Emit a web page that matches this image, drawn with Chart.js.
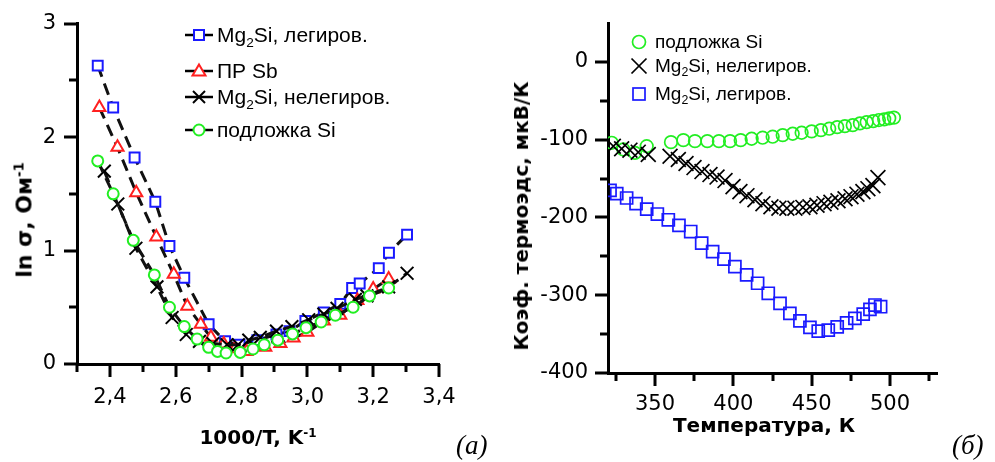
<!DOCTYPE html>
<html><head><meta charset="utf-8">
<script src="https://cdn.jsdelivr.net/npm/chart.js@4.4.1/dist/chart.umd.min.js"></script>
<style>
html,body{margin:0;padding:0;background:#fff;}
body{width:995px;height:462px;position:relative;overflow:hidden;font-family:"Liberation Sans",Arial,sans-serif;color:#000;}
canvas{position:absolute;top:0;}
#ca{left:0;}
#cb{left:480px;}
.t{position:absolute;white-space:nowrap;font-family:"DejaVu Sans",sans-serif;}
.b{font-weight:bold;}
.c{transform:translate(-50%,-50%);}
.r{transform:translate(-50%,-50%) rotate(-90deg);}
sup{font-size:0.6em;vertical-align:0.6em;line-height:0;}
sub{font-size:0.65em;vertical-align:-0.35em;line-height:0;}
.lg{position:absolute;white-space:nowrap;height:24px;line-height:24px;}
.lg svg{position:absolute;top:0;}
.lab{position:absolute;font-family:"Liberation Serif","Times New Roman",serif;font-style:italic;font-size:27px;}
</style>
</head><body>
<canvas id="ca" width="470" height="462"></canvas>
<canvas id="cb" width="515" height="462"></canvas>

<div class="t b r" style="left:24px;top:220px;font-size:22px;">ln σ, Ом<sup>-1</sup></div>
<div class="t b c" style="left:258px;top:437px;font-size:20px;">1000/T, K<sup>-1</sup></div>
<div class="t b r" style="left:521px;top:216px;font-size:20px;">Коэф. термоэдс, мкВ/К</div>
<div class="t b c" style="left:764px;top:425px;font-size:20px;">Температура, К</div>
<div class="lab" style="left:456px;top:430px;">(а)</div>
<div class="lab" style="left:952px;top:430px;">(б)</div>

<!-- legend (a) -->
<div class="lg" style="left:184px;top:23px;width:200px;font-size:21px;">
 <svg width="30" height="24" style="left:0"><line x1="1" y1="12" x2="29" y2="12" stroke="#000" stroke-width="2.5"/><rect x="10" y="7" width="10" height="10" fill="#fff" stroke="#1a1aff" stroke-width="2"/></svg>
 <span style="position:absolute;left:33px;">Mg<sub>2</sub>Si, легиров.</span></div>
<div class="lg" style="left:184px;top:59px;width:200px;font-size:21px;">
 <svg width="30" height="24" style="left:0"><line x1="1" y1="12" x2="29" y2="12" stroke="#000" stroke-width="2.5"/><polygon points="15,5.5 21.5,16.5 8.5,16.5" fill="#fff" stroke="#ff2020" stroke-width="2"/></svg>
 <span style="position:absolute;left:33px;">ПР Sb</span></div>
<div class="lg" style="left:184px;top:85px;width:240px;font-size:21px;">
 <svg width="30" height="24" style="left:0"><line x1="1" y1="12" x2="29" y2="12" stroke="#000" stroke-width="2.5"/><line x1="9" y1="6" x2="21" y2="18" stroke="#000" stroke-width="2"/><line x1="21" y1="6" x2="9" y2="18" stroke="#000" stroke-width="2"/></svg>
 <span style="position:absolute;left:33px;">Mg<sub>2</sub>Si, нелегиров.</span></div>
<div class="lg" style="left:184px;top:118px;width:200px;font-size:21px;">
 <svg width="30" height="24" style="left:0"><line x1="1" y1="12" x2="29" y2="12" stroke="#000" stroke-width="2.5"/><circle cx="15" cy="12" r="5.5" fill="#fff" stroke="#22ee22" stroke-width="2"/></svg>
 <span style="position:absolute;left:33px;">подложка Si</span></div>

<!-- legend (b) -->
<div class="lg" style="left:628px;top:30px;width:200px;font-size:19px;">
 <svg width="24" height="24" style="left:0"><circle cx="11" cy="12" r="6.5" fill="none" stroke="#22ee22" stroke-width="1.7"/></svg>
 <span style="position:absolute;left:27px;">подложка Si</span></div>
<div class="lg" style="left:628px;top:54px;width:240px;font-size:19px;">
 <svg width="24" height="24" style="left:0"><line x1="3.5" y1="4.5" x2="18.5" y2="19.5" stroke="#000" stroke-width="1.7"/><line x1="18.5" y1="4.5" x2="3.5" y2="19.5" stroke="#000" stroke-width="1.7"/></svg>
 <span style="position:absolute;left:27px;">Mg<sub>2</sub>Si, нелегиров.</span></div>
<div class="lg" style="left:628px;top:82px;width:240px;font-size:19px;">
 <svg width="24" height="24" style="left:0"><rect x="5" y="6" width="12" height="12" fill="none" stroke="#1a1aff" stroke-width="1.7"/></svg>
 <span style="position:absolute;left:27px;">Mg<sub>2</sub>Si, легиров.</span></div>

<script>
// ---------- (a) ln sigma vs 1000/T ----------
const aBlueX  = [2.363, 2.410, 2.475, 2.538, 2.581, 2.626, 2.700, 2.750, 2.794, 2.848, 2.906, 2.946, 2.994, 3.050, 3.100, 3.136, 3.159, 3.217, 3.248, 3.303];
const aBlueY  = [2.63, 2.26, 1.82, 1.43, 1.04, 0.76, 0.35, 0.20, 0.17, 0.21, 0.26, 0.29, 0.38, 0.455, 0.53, 0.67, 0.71, 0.845, 0.98, 1.14];
const aRedX   = [2.368, 2.423, 2.480, 2.541, 2.594, 2.635, 2.676, 2.707, 2.746, 2.780, 2.815, 2.872, 2.918, 2.958, 3.000, 3.050, 3.100, 3.152, 3.200, 3.247];
const aRedY   = [2.26, 1.91, 1.51, 1.12, 0.79, 0.51, 0.35, 0.235, 0.176, 0.135, 0.11, 0.147, 0.18, 0.23, 0.28, 0.38, 0.43, 0.56, 0.66, 0.75];
const aBlackX = [2.383, 2.424, 2.479, 2.543, 2.589, 2.632, 2.672, 2.713, 2.756, 2.790, 2.822, 2.857, 2.906, 2.953, 3.004, 3.050, 3.090, 3.146, 3.181, 3.247, 3.303];
const aBlackY = [1.70, 1.41, 1.02, 0.68, 0.41, 0.26, 0.20, 0.18, 0.17, 0.17, 0.21, 0.235, 0.29, 0.33, 0.39, 0.44, 0.49, 0.57, 0.60, 0.68, 0.80];
const aGreenX = [2.363, 2.410, 2.471, 2.535, 2.581, 2.626, 2.665, 2.700, 2.727, 2.753, 2.796, 2.835, 2.869, 2.910, 2.955, 2.996, 3.042, 3.085, 3.139, 3.189, 3.247];
const aGreenY = [1.79, 1.50, 1.09, 0.785, 0.50, 0.33, 0.22, 0.147, 0.111, 0.097, 0.102, 0.132, 0.17, 0.21, 0.265, 0.32, 0.37, 0.43, 0.50, 0.60, 0.67];
const aXTicks  = [2.3, 2.4, 2.5, 2.6, 2.7, 2.8, 2.9, 3.0, 3.1, 3.2, 3.3, 3.4];
const aXLabels = [2.4, 2.6, 2.8, 3.0, 3.2, 3.4];
const aYTicks  = [0, 0.5, 1, 1.5, 2, 2.5, 3];
const aYLabels = [0, 1, 2, 3];

// ---------- (b) Seebeck vs T ----------
const bGreenT = [322.4, 329.8, 337.2, 344.7, 360.2, 368.1, 375.5, 383.4, 390.8, 397.9, 404.7, 411.7, 418.7, 425.1, 431.5, 437.9, 443.6, 450.0, 455.9, 461.2, 466.3, 471.2, 476.2, 480.8, 485.1, 489.3, 492.9, 496.3, 499.5, 502.5];
const bGreenS = [-104, -112.6, -117, -108.4, -103.2, -100.6, -101.9, -101.9, -101.9, -101.9, -100.6, -98.8, -97.5, -96.2, -94.1, -92.4, -91.1, -89.4, -87.7, -85.9, -83.9, -82.6, -81.3, -79.1, -77.4, -76.1, -74.8, -73.9, -72.6, -71.7];
const bBlackT = [323.4, 328.7, 334.0, 339.3, 345.7, 359.6, 364.9, 369.8, 374.9, 380.0, 385.1, 389.6, 394.7, 399.8, 404.2, 408.7, 413.8, 418.9, 424.0, 429.1, 434.2, 439.3, 444.4, 448.9, 453.4, 457.9, 462.3, 466.8, 471.3, 475.1, 478.9, 482.7, 485.9, 489.1, 492.3];
const bBlackS = [-108.4, -111.7, -113.5, -116.1, -119.1, -121.3, -125.5, -130.7, -135.9, -141.0, -144.9, -148.1, -152.6, -160.4, -166.8, -172.0, -177.2, -182.3, -186.2, -188.1, -188.1, -188.1, -187.1, -186.2, -184.3, -182.3, -180.4, -178.5, -175.9, -173.3, -170.1, -166.8, -163.0, -159.1, -148.8];
const bBlueT  = [321.3, 325.6, 331.9, 337.9, 344.7, 351.5, 358.5, 365.3, 372.8, 379.8, 386.8, 394.0, 401.0, 408.5, 415.5, 422.3, 429.8, 436.1, 442.5, 448.9, 454.2, 460.6, 466.3, 472.3, 477.6, 482.9, 487.2, 490.4, 494.0];
const bBlueS  = [-165.2, -169.4, -175.0, -182.3, -189.2, -195.6, -203.0, -210.3, -218.1, -233.0, -243.9, -253.7, -263.2, -273.9, -284.6, -297.5, -310.5, -323.4, -332.9, -341.4, -346.2, -344.9, -340.6, -335.5, -329.8, -324.3, -318.2, -312.6, -314.8];
const bXTicks  = [325, 350, 375, 400, 425, 450, 475, 500, 525];
const bXLabels = [350, 400, 450, 500];
const bYTicks  = [-400, -350, -300, -250, -200, -150, -100, -50, 0];
const bYLabels = [-400, -300, -200, -100, 0];

const FONT = '"DejaVu Sans", sans-serif';
const BLUE = '#1a1aff', RED = '#ff2020', GREEN = '#22ee22', BLACK = '#000000';

const has = (arr, v) => arr.some(a => Math.abs(a - v) < 1e-6);
const pts = (xs, ys) => xs.map((x, i) => ({x: x, y: ys[i]}));

const tickPlugin = {
  id: 'axisTicks',
  afterDraw(chart, args, o) {
    const ctx = chart.ctx, ca = chart.chartArea;
    const xs = chart.scales.x, ys = chart.scales.y;
    ctx.save();
    ctx.strokeStyle = '#000';
    ctx.lineWidth = o.w;
    o.xt.forEach(v => {
      const p = Math.round(xs.getPixelForValue(v));
      const L = has(o.xl, v) ? o.maj : o.min;
      ctx.beginPath(); ctx.moveTo(p, ca.bottom); ctx.lineTo(p, ca.bottom + L); ctx.stroke();
    });
    o.yt.forEach(v => {
      const p = Math.round(ys.getPixelForValue(v));
      const L = has(o.yl, v) ? o.maj : o.min;
      ctx.beginPath(); ctx.moveTo(ca.left, p); ctx.lineTo(ca.left - L, p); ctx.stroke();
    });
    ctx.restore();
  }
};

function axis(min, max, tickVals, labelVals, fmt, fit, tl, pad, size) {
  return {
    type: 'linear', min: min, max: max,
    afterBuildTicks: s => { s.ticks = tickVals.map(v => ({value: v})); },
    afterFit: fit,
    border: {display: true, color: '#000', width: 3},
    grid: {display: true, drawOnChartArea: false, drawTicks: true, tickLength: tl, tickColor: 'rgba(0,0,0,0)'},
    ticks: {color: '#000', font: {family: FONT, size: size}, padding: pad, maxRotation: 0, autoSkip: false,
            callback: v => has(labelVals, v) ? fmt(v) : ''}
  };
}

function lineDs(xs, ys, style, color, r, order) {
  return {data: pts(xs, ys), showLine: true, borderColor: '#111', borderWidth: 3, borderDash: [12, 7],
          pointStyle: style, pointRadius: r, pointBorderColor: color, pointBackgroundColor: '#ffffff',
          pointBorderWidth: 2, order: order, tension: 0};
}
function ptDs(xs, ys, style, color, r, order) {
  return {data: pts(xs, ys), showLine: false,
          pointStyle: style, pointRadius: r, pointBorderColor: color, pointBackgroundColor: 'rgba(0,0,0,0)',
          pointBorderWidth: 1.7, order: order};
}

const common = {
  responsive: false, animation: false, devicePixelRatio: 1,
  plugins: {legend: {display: false}, tooltip: {enabled: false}}
};

new Chart(document.getElementById('ca'), {
  type: 'scatter',
  data: {datasets: [
    lineDs(aGreenX, aGreenY, 'circle', GREEN, 5.5, 1),
    lineDs(aBlackX, aBlackY, 'crossRot', BLACK, 9, 2),
    lineDs(aRedX, aRedY, 'triangle', RED, 7, 3),
    lineDs(aBlueX, aBlueY, 'rect', BLUE, 7, 4)
  ]},
  options: Object.assign({}, common, {
    layout: {padding: {top: 23, right: 31, left: 0, bottom: 0}},
    scales: {
      x: axis(2.3, 3.4, aXTicks, aXLabels, v => v.toFixed(1).replace('.', ','), s => { s.height = 98; }, 14, 7, 21),
      y: axis(0, 3, aYTicks, aYLabels, v => String(v), s => { s.width = 77; }, 10, 11, 21)
    },
    plugins: Object.assign({}, common.plugins, {axisTicks: {w: 3, maj: 13, min: 8, xt: aXTicks, xl: aXLabels, yt: aYTicks, yl: aYLabels}})
  }),
  plugins: [tickPlugin]
});

new Chart(document.getElementById('cb'), {
  type: 'scatter',
  data: {datasets: [
    ptDs(bGreenT, bGreenS, 'circle', GREEN, 6.3, 2),
    ptDs(bBlackT, bBlackS, 'crossRot', BLACK, 10.5, 1),
    ptDs(bBlueT, bBlueS, 'rect', BLUE, 8.5, 3)
  ]},
  options: Object.assign({}, common, {
    layout: {padding: {top: 23, right: 58, left: 0, bottom: 0}},
    scales: {
      x: axis(320, 530, bXTicks, bXLabels, v => String(v), s => { s.height = 89; }, 14, 5, 21),
      y: axis(-400, 50, bYTicks, bYLabels, v => String(v), s => { s.width = 128; }, 13, 7, 21)
    },
    plugins: Object.assign({}, common.plugins, {axisTicks: {w: 3, maj: 13, min: 8, xt: bXTicks, xl: bXLabels, yt: bYTicks, yl: bYLabels}})
  }),
  plugins: [tickPlugin]
});
</script>
</body></html>
